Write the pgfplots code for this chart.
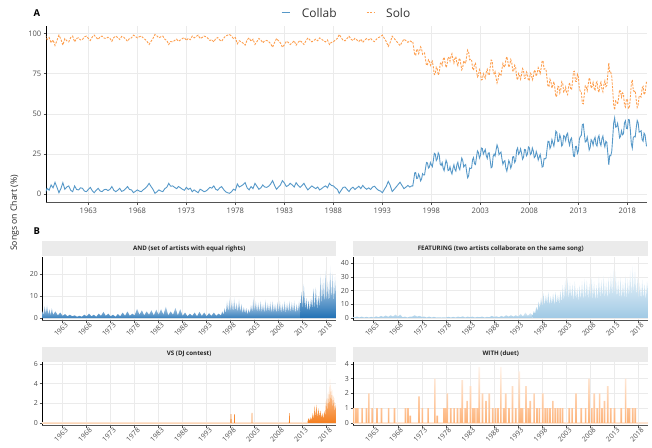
\documentclass[border=0pt]{standalone}
\usepackage{pgfplots}
\pgfplotsset{compat=1.18}
\usepackage{pgfplotstable}
\usepackage{fontspec}
\setmainfont{Open Sans}
\definecolor{collab}{HTML}{5698C8}
\definecolor{solo}{HTML}{FD9F4F}
\definecolor{anddark}{HTML}{2171B5}
\definecolor{featblue}{HTML}{8FC0E0}
\definecolor{vsorange}{HTML}{F57F1F}
\definecolor{withorange}{HTML}{FDAA6A}
\definecolor{gridc}{HTML}{EBEBEB}
\definecolor{stripc}{HTML}{EBEBEB}
\definecolor{txt}{HTML}{4D4D4D}

\pgfplotstableread{
yr collab solo
1958.6 1.0 99.0
1958.8 3.7 96.3
1959.0 2.5 97.5
1959.2 5.8 94.2
1959.4 4.0 96.0
1959.6 7.4 92.6
1959.8 4.3 95.7
1960.0 1.0 99.0
1960.2 3.5 96.5
1960.4 7.2 92.8
1960.6 3.1 96.9
1960.8 4.5 95.5
1961.0 5.2 94.8
1961.2 2.5 97.5
1961.4 1.6 98.4
1961.6 5.2 94.8
1961.8 3.0 97.0
1962.0 2.7 97.3
1962.2 4.0 96.0
1962.4 3.7 96.3
1962.6 2.0 98.0
1962.8 1.6 98.4
1963.0 3.0 97.0
1963.2 4.3 95.7
1963.4 2.2 97.8
1963.6 1.0 99.0
1963.8 2.5 97.5
1964.0 3.7 96.3
1964.2 2.0 98.0
1964.4 1.6 98.4
1964.6 2.8 97.2
1964.8 3.1 96.9
1965.0 2.3 97.7
1965.2 3.0 97.0
1965.4 4.8 95.2
1965.6 2.5 97.5
1965.8 1.6 98.4
1966.0 2.5 97.5
1966.2 3.7 96.3
1966.4 1.8 98.2
1966.6 2.3 97.7
1966.8 3.5 96.5
1967.0 4.8 95.2
1967.2 3.0 97.0
1967.4 2.7 97.3
1967.6 1.0 99.0
1967.8 1.8 98.2
1968.0 2.7 97.3
1968.2 2.0 98.0
1968.4 1.6 98.4
1968.6 2.8 97.2
1968.8 3.7 96.3
1969.0 5.0 95.0
1969.2 6.8 93.2
1969.4 4.8 95.2
1969.6 3.0 97.0
1969.8 0.6 99.4
1970.0 1.5 98.5
1970.2 2.7 97.3
1970.4 2.0 98.0
1970.6 1.6 98.4
1970.8 3.5 96.5
1971.0 4.3 95.7
1971.2 6.8 93.2
1971.4 5.0 95.0
1971.6 5.2 94.8
1971.8 4.3 95.7
1972.0 3.5 96.5
1972.2 4.8 95.2
1972.4 4.0 96.0
1972.6 3.1 96.9
1972.8 2.5 97.5
1973.0 4.3 95.7
1973.2 3.0 97.0
1973.4 3.8 96.2
1973.6 1.6 98.4
1973.8 2.7 97.3
1974.0 1.8 98.2
1974.2 1.0 99.0
1974.4 3.1 96.9
1974.6 2.5 97.5
1974.8 1.6 98.4
1975.0 2.0 98.0
1975.2 3.0 97.0
1975.4 4.3 95.7
1975.6 3.8 96.2
1975.8 5.2 94.8
1976.0 3.1 96.9
1976.2 2.5 97.5
1976.4 4.0 96.0
1976.6 4.8 95.2
1976.8 3.0 97.0
1977.0 1.6 98.4
1977.2 1.0 99.0
1977.4 0.6 99.4
1977.6 1.5 98.5
1977.8 3.1 96.9
1978.0 2.5 97.5
1978.2 6.4 93.6
1978.4 4.5 95.5
1978.6 5.2 94.8
1978.8 6.0 94.0
1979.0 7.2 92.8
1979.2 4.0 96.0
1979.4 2.7 97.3
1979.6 4.8 95.2
1979.8 3.5 96.5
1980.0 6.8 93.2
1980.2 5.0 95.0
1980.4 3.1 96.9
1980.6 4.0 96.0
1980.8 5.8 94.2
1981.0 4.5 95.5
1981.2 4.3 95.7
1981.4 5.0 95.0
1981.6 6.4 93.6
1981.8 8.5 91.5
1982.0 5.5 94.5
1982.2 3.1 96.9
1982.4 4.5 95.5
1982.6 5.8 94.2
1982.8 8.5 91.5
1983.0 7.0 93.0
1983.2 4.8 95.2
1983.4 5.5 94.5
1983.6 6.8 93.2
1983.8 5.8 94.2
1984.0 4.5 95.5
1984.2 7.2 92.8
1984.4 5.5 94.5
1984.6 4.3 95.7
1984.8 5.5 94.5
1985.0 6.8 93.2
1985.2 4.5 95.5
1985.4 2.7 97.3
1985.6 4.0 96.0
1985.8 5.2 94.8
1986.0 4.3 95.7
1986.2 3.5 96.5
1986.4 4.5 95.5
1986.6 2.7 97.3
1986.8 3.5 96.5
1987.0 4.5 95.5
1987.2 5.2 94.8
1987.4 4.0 96.0
1987.6 6.8 93.2
1987.8 5.5 94.5
1988.0 5.2 94.8
1988.2 4.0 96.0
1988.4 3.1 96.9
1988.6 0.6 99.4
1988.8 2.5 97.5
1989.0 4.3 95.7
1989.2 4.5 95.5
1989.4 3.0 97.0
1989.6 1.7 98.3
1989.8 3.5 96.5
1990.0 4.4 95.6
1990.2 3.0 97.0
1990.4 4.0 96.0
1990.6 5.0 95.0
1990.8 3.5 96.5
1991.0 5.5 94.5
1991.2 4.0 96.0
1991.4 3.1 96.9
1991.6 4.0 96.0
1991.8 3.0 97.0
1992.0 4.5 95.5
1992.2 5.0 95.0
1992.4 3.5 96.5
1992.6 2.5 97.5
1992.8 2.0 98.0
1993.0 1.0 99.0
1993.2 3.0 97.0
1993.4 5.0 95.0
1993.6 8.0 92.0
1993.8 5.5 94.5
1994.0 1.7 98.3
1994.2 3.0 97.0
1994.4 4.5 95.5
1994.6 6.0 94.0
1994.8 7.5 92.5
1995.0 5.5 94.5
1995.2 3.5 96.5
1995.4 4.4 95.6
1995.6 5.5 94.5
1995.8 4.5 95.5
1996.0 5.2 94.8
1996.1 5.1 94.9
1996.2 9.0 91.0
1996.3 13.3 86.7
1996.4 13.5 86.5
1996.5 9.8 90.2
1996.6 10.0 90.0
1996.7 12.5 87.5
1996.8 11.0 89.0
1996.9 8.3 91.7
1997.0 9.5 90.5
1997.1 12.8 87.2
1997.2 12.0 88.0
1997.3 12.0 88.0
1997.4 16.0 84.0
1997.5 19.8 80.2
1997.6 19.5 80.5
1997.7 16.3 83.7
1997.8 17.0 83.0
1997.9 19.7 80.3
1998.0 18.3 81.7
1998.1 17.2 82.8
1998.2 21.0 79.0
1998.3 25.5 74.5
1998.4 25.0 75.0
1998.5 21.0 79.0
1998.6 22.0 78.0
1998.7 25.8 74.2
1998.8 24.5 75.5
1998.9 18.8 81.2
1999.0 18.0 82.0
1999.1 19.7 80.3
1999.2 16.3 83.7
1999.3 14.7 85.3
1999.4 18.0 82.0
1999.5 21.2 78.8
1999.6 19.4 80.6
1999.7 14.7 85.3
1999.8 15.0 85.0
1999.9 17.1 82.9
2000.0 14.2 85.8
2000.1 12.6 87.4
2000.2 16.0 84.0
2000.3 18.3 81.7
2000.4 15.5 84.5
2000.5 14.4 85.6
2000.6 18.3 81.7
2000.7 19.9 80.1
2000.8 16.5 83.5
2000.9 15.3 84.7
2001.0 19.0 81.0
2001.1 22.5 77.5
2001.2 21.0 79.0
2001.3 17.0 83.0
2001.4 18.0 82.0
2001.5 18.5 81.5
2001.6 14.0 86.0
2001.7 10.3 89.7
2001.8 11.5 88.5
2001.9 16.3 83.7
2002.0 16.0 84.0
2002.1 16.3 83.7
2002.2 21.5 78.5
2002.3 22.8 77.2
2002.4 19.0 81.0
2002.5 18.5 81.5
2002.6 23.0 77.0
2002.7 27.0 73.0
2002.8 26.0 74.0
2002.9 22.5 77.5
2003.0 24.0 76.0
2003.1 28.8 71.2
2003.2 28.5 71.5
2003.3 25.0 75.0
2003.4 26.5 73.5
2003.5 27.8 72.2
2003.6 24.0 76.0
2003.7 22.3 77.7
2003.8 25.6 74.4
2003.9 25.8 74.2
2004.0 21.0 79.0
2004.1 16.5 83.5
2004.2 17.0 83.0
2004.3 23.5 76.5
2004.4 25.0 75.0
2004.5 23.8 76.2
2004.6 27.5 72.5
2004.7 30.7 69.3
2004.8 28.8 71.2
2004.9 24.7 75.3
2005.0 25.6 74.4
2005.1 26.3 73.7
2005.2 22.0 78.0
2005.3 18.7 81.3
2005.4 20.4 79.6
2005.5 20.9 79.1
2005.6 16.3 83.7
2005.7 14.4 85.6
2005.8 17.5 82.5
2005.9 21.0 79.0
2006.0 19.4 80.6
2006.1 16.2 83.8
2006.2 18.0 82.0
2006.3 23.3 76.7
2006.4 23.5 76.5
2006.5 19.8 80.2
2006.6 21.0 79.0
2006.7 27.4 72.6
2006.8 28.8 71.2
2006.9 24.9 75.1
2007.0 26.0 74.0
2007.1 28.3 71.7
2007.2 25.6 74.4
2007.3 21.8 78.2
2007.4 23.0 77.0
2007.5 27.9 72.1
2007.6 27.7 72.3
2007.7 23.9 76.1
2007.8 25.0 75.0
2007.9 29.4 70.6
2008.0 28.8 71.2
2008.1 24.7 75.3
2008.2 25.5 74.5
2008.3 28.8 71.2
2008.4 27.0 73.0
2008.5 22.8 77.2
2008.6 23.5 76.5
2008.7 26.6 73.4
2008.8 24.6 75.4
2008.9 21.3 78.7
2009.0 23.0 77.0
2009.1 24.8 75.2
2009.2 21.5 78.5
2009.3 16.9 83.1
2009.4 17.3 82.7
2009.5 22.2 77.8
2009.6 22.0 78.0
2009.7 22.5 77.5
2009.8 28.0 72.0
2009.9 33.0 67.0
2010.0 32.9 67.1
2010.1 28.5 71.5
2010.2 30.0 70.0
2010.3 34.0 66.0
2010.4 31.9 68.1
2010.5 30.0 70.0
2010.6 34.0 66.0
2010.7 39.3 60.7
2010.8 38.5 61.5
2010.9 32.8 67.2
2011.0 33.0 67.0
2011.1 37.0 63.0
2011.2 35.0 65.0
2011.3 30.0 70.0
2011.4 31.0 69.0
2011.5 36.5 63.5
2011.6 36.0 64.0
2011.7 33.5 66.5
2011.8 37.0 63.0
2011.9 38.0 62.0
2012.0 33.0 67.0
2012.1 30.5 69.5
2012.2 34.0 66.0
2012.3 35.0 65.0
2012.4 30.0 70.0
2012.5 23.8 76.2
2012.6 23.5 76.5
2012.7 29.7 70.3
2012.8 29.8 70.2
2012.9 25.4 74.6
2013.0 27.0 73.0
2013.1 34.5 65.5
2013.2 36.0 64.0
2013.3 36.7 63.3
2013.4 43.3 56.7
2013.5 43.7 56.3
2013.6 38.0 62.0
2013.7 32.5 67.5
2013.8 33.0 67.0
2013.9 35.5 64.5
2014.0 31.9 68.1
2014.1 27.5 72.5
2014.2 29.0 71.0
2014.3 34.0 66.0
2014.4 33.0 67.0
2014.5 30.5 69.5
2014.6 34.0 66.0
2014.7 35.5 64.5
2014.8 31.0 69.0
2014.9 30.0 70.0
2015.0 35.0 65.0
2015.1 36.5 63.5
2015.2 32.0 68.0
2015.3 30.3 69.7
2015.4 34.5 65.5
2015.5 36.2 63.8
2015.6 31.9 68.1
2015.7 29.5 70.5
2015.8 33.0 67.0
2015.9 32.3 67.7
2016.0 25.6 74.4
2016.1 18.3 81.7
2016.2 24.2 75.8
2016.3 24.0 76.0
2016.4 26.5 73.5
2016.5 35.0 65.0
2016.6 44.3 55.7
2016.7 47.5 52.5
2016.8 41.8 58.2
2016.9 42.0 58.0
2017.0 44.1 55.9
2017.1 40.2 59.8
2017.2 35.1 64.9
2017.3 36.0 64.0
2017.4 39.5 60.5
2017.5 37.0 63.0
2017.6 37.7 62.3
2017.7 44.4 55.6
2017.8 45.7 54.3
2017.9 41.0 59.0
2018.0 40.8 59.2
2018.1 46.5 53.5
2018.2 46.3 53.7
2018.3 40.0 60.0
2018.4 31.4 68.6
2018.5 28.8 71.2
2018.6 35.4 64.6
2018.7 36.0 64.0
2018.8 35.7 64.3
2018.9 41.3 58.7
2019.0 45.9 54.1
2019.1 44.4 55.6
2019.2 38.7 61.3
2019.3 39.0 61.0
2019.4 39.5 60.5
2019.5 34.0 66.0
2019.6 33.0 67.0
2019.7 38.0 62.0
2019.8 36.9 63.1
2019.95 29.8 70.2
}\mainA

\pgfplotsset{
  panel/.style={
    scale only axis,
    axis x line*=bottom, axis y line*=left,
    axis line style={-},
    x axis line style={draw=gray!65!black, line width=1bp},
    y axis line style={draw=black, line width=0.7bp},
    grid=major, major grid style={gridc, line width=0.6bp},
    tick style={draw=txt, line width=0.5bp},
    tick align=outside, major tick length=2.5bp,
    xtick={1963,1968,...,2018},
    xticklabels={1963,1968,1973,1978,1983,1988,1993,1998,2003,2008,2013,2018},
  },
  bpanel/.style={
    panel,
    xmin=1958.7, xmax=2019.95,
    ticklabel style={font=\fontsize{7}{7.5}\selectfont, text=txt},
    xticklabel style={rotate=45, anchor=north east, inner sep=1bp, xshift=3bp},
    yticklabel style={inner sep=1.5bp},
  },
}

\newcommand{\strip}[3]{\node[fill=stripc, minimum width=#3, minimum height=15bp, inner sep=0pt, anchor=south west, font=\bfseries\fontsize{6.2}{7}\selectfont, text=black!85] at #1 {#2};}

\begin{document}
\begin{tikzpicture}
\useasboundingbox (0,0) rectangle (652bp,-448bp);

% ---------- Panel A ----------
\begin{axis}[panel,
  at={(46bp,-202.3bp)}, anchor=south west,
  width=601bp, height=176.8bp,
  xmin=1958.68, xmax=2020.0, ymin=-5, ymax=105,
  ytick={0,25,50,75,100}, yticklabels={0,25,50,75,100},
  ticklabel style={font=\fontsize{7.6}{8}\selectfont, text=txt},
  yticklabel style={inner sep=2bp},
]
\addplot[collab, line width=0.9bp] table[x=yr, y=collab] \mainA;
\addplot[solo, line width=0.9bp, dash pattern=on 2.2bp off 1.3bp] table[x=yr, y=solo] \mainA;
\end{axis}

% ---------- AND ----------
\strip{(42bp,-256.5bp)}{AND (set of artists with equal rights)}{294bp}
\begin{axis}[bpanel,
  at={(42bp,-320bp)}, anchor=south west,
  width=294bp, height=63.5bp,
  ymin=-0.9, ymax=28,
  ytick={0,10,20}, yticklabels={0,10,20},
]
\addplot[draw=none, bottom color=anddark!90, top color=anddark!25] table {
x y
1958.75 3.0
1959.0 1.5
1959.25 5.5
1959.5 2.0
1959.75 5.9
1960.0 1.5
1960.25 4.0
1960.5 1.2
1960.75 4.5
1961.0 1.5
1961.5 3.0
1962.0 1.2
1962.5 2.5
1963.0 1.0
1963.5 1.8
1964.0 0.8
1964.5 1.5
1965.0 0.8
1965.5 1.2
1966.0 0.6
1966.5 1.0
1967.0 0.6
1967.5 1.5
1968.0 0.8
1968.5 2.0
1969.0 0.8
1969.5 1.5
1970.0 0.6
1970.5 2.0
1971.0 1.0
1971.5 2.8
1972.0 1.0
1972.5 2.0
1973.0 0.8
1973.5 1.5
1974.0 0.6
1974.5 1.8
1975.0 0.8
1975.5 2.5
1976.0 1.0
1976.5 3.0
1977.0 1.0
1977.5 2.0
1978.0 1.2
1978.5 4.2
1979.0 1.5
1979.5 3.5
1980.0 1.2
1980.5 3.0
1981.0 1.5
1981.5 3.5
1982.0 1.2
1982.5 3.8
1983.0 1.5
1983.5 4.0
1984.0 1.5
1984.5 5.2
1985.0 1.2
1985.5 3.0
1986.0 1.5
1986.5 4.6
1987.0 1.2
1987.5 4.0
1988.0 1.0
1988.5 2.5
1989.0 0.8
1989.5 2.0
1990.0 1.0
1990.5 2.5
1991.0 0.8
1991.5 2.8
1992.0 1.0
1992.5 2.5
1993.0 0.8
1993.5 2.2
1994.0 1.0
1994.5 2.5
1995.0 1.0
1995.5 2.0
1996.0 1.2
} \closedcycle;
\addplot[draw=none, bottom color=anddark!90, top color=anddark!5] table {
x y
1996.0 1.2
1996.25 3.0
1996.5 1.5
1996.75 4.5
1997.0 2.0
1997.25 8.0
1997.5 2.5
1997.75 9.5
1998.0 3.0
1998.25 8.5
1998.5 2.5
1998.75 9.8
1999.0 3.0
1999.25 7.0
1999.5 2.5
1999.75 9.0
2000.0 2.5
2000.25 6.5
2000.5 2.0
2000.75 5.0
2001.0 2.0
2001.25 4.5
2001.5 1.5
2001.75 4.0
2002.0 2.0
2002.25 6.0
2002.5 2.5
2002.75 10.0
2003.0 3.0
2003.25 8.0
2003.5 2.5
2003.75 7.0
2004.0 2.5
2004.25 8.0
2004.5 2.5
2004.75 6.5
2005.0 2.0
2005.25 8.5
2005.5 2.5
2005.75 7.0
2006.0 2.5
2006.25 7.5
2006.5 2.0
2006.75 8.0
2007.0 2.5
2007.25 6.5
2007.5 2.0
2007.75 7.5
2008.0 2.5
2008.25 8.0
2008.5 2.0
2008.75 6.5
2009.0 2.5
2009.25 8.0
2009.5 2.0
2009.75 7.0
2010.0 2.5
2010.25 8.0
2010.5 2.5
2010.75 7.5
2011.0 2.5
2011.25 8.0
2011.5 2.0
2011.75 6.5
2012.0 2.5
2012.25 8.0
2012.5 3.0
} \closedcycle;
\addplot[draw=none, bottom color=anddark, top color=anddark!4] table {
x y
2012.5 3.0
2012.75 12.0
2013.0 4.0
2013.25 15.5
2013.5 4.0
2013.75 9.0
2014.0 3.0
2014.25 8.0
2014.5 3.0
2014.75 9.0
2015.0 4.0
2015.25 13.5
2015.5 4.0
2015.75 14.0
2016.0 3.5
2016.25 10.0
2016.5 5.0
2016.75 20.0
2017.0 6.0
2017.25 18.0
2017.5 6.0
2017.75 22.0
2018.0 7.0
2018.25 17.0
2018.5 6.0
2018.75 24.0
2019.0 8.0
2019.25 21.0
2019.5 7.0
2019.75 19.0
2019.95 10.0
} \closedcycle;
\end{axis}

% ---------- FEATURING ----------
\strip{(353bp,-256.5bp)}{FEATURING (two artists collaborate on the same song)}{295bp}
\begin{axis}[bpanel,
  at={(353bp,-320bp)}, anchor=south west,
  width=295bp, height=63.5bp,
  ymin=-1.5, ymax=44.9,
  ytick={0,10,20,30,40}, yticklabels={0,10,20,30,40},
]
\addplot[draw=none, bottom color=featblue!85, top color=featblue!30] table {
x y
1958.75 0.8
1959.0 0.3
1959.5 1.0
1960.0 0.3
1960.5 1.0
1961.0 0.3
1961.5 0.8
1962.0 0.3
1962.5 0.8
1963.0 0.3
1963.5 1.2
1964.0 0.5
1964.5 1.5
1965.0 0.8
1965.5 1.8
1966.0 0.8
1966.5 2.0
1967.0 1.0
1967.5 2.5
1968.0 1.0
1968.5 2.5
1969.0 0.5
1969.5 1.0
1970.0 0.3
1970.5 1.0
1971.0 1.0
1971.5 2.0
1972.0 1.0
1972.5 1.5
1973.0 0.8
1973.5 1.0
1974.0 0.3
1974.5 1.0
1975.0 0.3
1975.5 0.8
1976.0 0.3
1976.5 0.5
1977.0 0.3
1977.5 0.5
1978.0 0.3
1978.5 0.8
1979.0 0.3
1979.5 0.8
1980.0 0.3
1980.5 1.0
1981.0 0.5
1981.5 1.2
1982.0 0.3
1982.5 1.0
1983.0 0.5
1983.5 1.0
1984.0 0.3
1984.5 0.8
1985.0 0.5
1985.5 1.0
1986.0 0.3
1986.5 0.8
1987.0 0.5
1987.5 1.5
1988.0 0.8
1988.5 1.2
1989.0 0.5
1989.5 1.5
1990.0 0.8
1990.5 2.0
1991.0 1.0
1991.5 2.0
1992.0 1.0
1992.5 2.0
1993.0 1.0
1993.5 3.0
1994.0 1.2
1994.5 4.0
1995.0 1.5
1995.5 3.5
1996.0 2.0
} \closedcycle;
\addplot[draw=none, bottom color=featblue!85, top color=featblue!4] table {
x y
1996.0 2.0
1996.25 5.0
1996.5 3.0
1996.75 8.0
1997.0 5.0
1997.25 12.0
1997.5 7.0
1997.75 15.0
1998.0 8.0
1998.25 18.0
1998.5 9.0
1998.75 17.0
1999.0 10.0
1999.25 19.0
1999.5 9.0
1999.75 16.0
2000.0 10.0
2000.25 18.0
2000.5 9.0
2000.75 19.0
2001.0 10.0
2001.25 17.0
2001.5 10.0
2001.75 20.0
2002.0 11.0
2002.25 24.0
2002.5 12.0
2002.75 28.0
2003.0 14.0
2003.25 30.0
2003.5 13.0
2003.75 26.0
2004.0 14.0
2004.25 25.0
2004.5 12.0
2004.75 27.0
2005.0 13.0
2005.25 22.0
2005.5 12.0
2005.75 24.0
2006.0 13.0
2006.25 27.0
2006.5 12.0
2006.75 29.0
2007.0 14.0
2007.25 28.0
2007.5 13.0
2007.75 25.0
2008.0 14.0
2008.25 30.0
2008.5 13.0
2008.75 27.0
2009.0 12.0
2009.25 24.0
2009.5 13.0
2009.75 31.0
2010.0 14.0
2010.25 28.0
2010.5 15.0
2010.75 31.0
2011.0 14.0
2011.25 27.0
2011.5 13.0
2011.75 30.0
2012.0 15.0
2012.25 33.0
2012.5 16.0
2012.75 37.0
2013.0 16.0
2013.25 34.0
2013.5 14.0
2013.75 28.0
2014.0 14.0
2014.25 30.0
2014.5 13.0
2014.75 27.0
2015.0 14.0
2015.25 31.0
2015.5 13.0
2015.75 29.0
2016.0 15.0
2016.25 35.0
2016.5 16.0
2016.75 40.0
2017.0 17.0
2017.25 38.0
2017.5 15.0
2017.75 30.0
2018.0 14.0
2018.25 26.0
2018.5 13.0
2018.75 28.0
2019.0 14.0
2019.25 25.0
2019.5 13.0
2019.75 27.0
2019.95 20.0
} \closedcycle;
\end{axis}

% ---------- VS ----------
\strip{(42bp,-361.7bp)}{VS (DJ contest)}{294bp}
\begin{axis}[bpanel,
  at={(42bp,-425.3bp)}, anchor=south west,
  width=294bp, height=63.6bp,
  ymin=-0.23, ymax=6.24,
  ytick={0,2,4,6}, yticklabels={0,2,4,6},
]
\addplot[vsorange!22, line width=2bp] coordinates {(1958.7,0) (2014,0)};
\addplot[draw=none, bottom color=vsorange, top color=vsorange!25] table {
x y
1958.7 0
1997.95 0
1998.0 0.9
1998.15 0.9
1998.2 0
1998.7 0
1998.75 0.9
1998.85 0.9
1998.9 0
2002.35 0
2002.4 1.05
2002.5 1.05
2002.55 0
2010.15 0
2010.2 1.0
2010.3 1.0
2010.35 0
2014.0 0
2014.1 0.3
2014.3 0.5
2014.5 0.2
2014.7 0.6
2014.9 0.3
2015.1 1.0
2015.3 0.4
2015.5 1.8
2015.7 0.6
2015.9 1.9
2016.1 0.5
2016.3 1.5
2016.5 0.6
2016.7 1.3
2016.9 0.5
2017.1 1.0
2017.3 0.4
2017.5 1.2
2017.7 0.8
2017.9 2.5
2018.1 1.2
2018.3 3.2
2018.5 1.5
2018.7 4.5
2018.9 2.0
2019.1 3.5
2019.3 1.5
2019.5 2.8
2019.7 1.2
2019.95 2.0
} \closedcycle;
\end{axis}

% ---------- WITH ----------
\strip{(353bp,-361.7bp)}{WITH (duet)}{295bp}
\begin{axis}[bpanel,
  at={(353bp,-425.3bp)}, anchor=south west,
  width=295bp, height=63.6bp,
  ymin=-0.16, ymax=4.15,
  ytick={0,1,2,3,4}, yticklabels={0,1,2,3,4},
]
\addplot[withorange!30, line width=1.5bp] coordinates {(1958.7,0) (2019.95,0)};
\addplot[ybar, bar width=0.35, draw=none, bottom color=withorange!90, top color=withorange!12] table {
x y
1958.8 1
1959.3 1
1959.7 1
1960.6 1
1961.5 1
1962.0 2
1962.7 1
1963.7 1
1964.6 1
1966.1 1
1967.3 1
1969.6 1
1970.1 1
1970.6 0.5
1972.4 1.8
1973.1 1
1974.3 1
1975.7 3
1976.2 0.5
1977.6 1
1978.0 1
1978.3 2
1979.0 1
1979.7 1
1980.4 1
1981.0 1
1981.4 2.9
1982.0 1
1982.4 1.5
1983.1 2.5
1983.6 1
1984.0 1
1984.5 1
1984.9 3.8
1985.6 2
1986.3 1.5
1987.0 2
1987.7 1
1988.3 1
1988.8 1
1989.4 3.8
1990.0 1
1990.4 2
1991.1 1
1991.8 2.5
1992.5 1
1993.2 3.5
1993.6 1
1993.9 1
1994.6 2.5
1995.1 1
1995.5 1.5
1996.3 2
1996.9 1
1997.4 1
1998.1 2
1998.6 1
1999.1 1
1999.6 1
2000.2 1.5
2000.7 1
2001.2 1
2001.7 1
2002.2 1
2003.6 1
2004.2 1
2005.0 2
2006.1 1
2007.0 1
2007.7 3
2008.3 1
2008.8 2
2009.4 1
2009.9 2
2010.4 1
2010.9 1.5
2011.6 2.5
2012.2 1
2013.0 1
2014.4 1
2015.3 3
2015.8 1
2016.1 1
2016.8 1
2017.3 1
};
\end{axis}

% ---------- labels and legend ----------
\node[anchor=base west, inner sep=0pt, font=\bfseries\fontsize{9.5}{10}\selectfont] at (33.3bp,-16.7bp) {A};
\node[anchor=base west, inner sep=0pt, font=\bfseries\fontsize{9.5}{10}\selectfont] at (33.3bp,-234bp) {B};
\node[rotate=90, inner sep=0pt, font=\fontsize{8.7}{10}\selectfont, text=black!85] at (14.5bp,-213bp) {Songs on Chart (\%)};
\draw[collab, line width=0.8bp] (281.7bp,-12.7bp) -- (290bp,-12.7bp);
\node[anchor=base west, inner sep=0pt, font=\fontsize{12}{14}\selectfont, text=black!80] at (301.7bp,-17.3bp) {Collab};
\draw[solo, line width=0.8bp, dash pattern=on 2.2bp off 1.3bp] (366.7bp,-12.7bp) -- (375bp,-12.7bp);
\node[anchor=base west, inner sep=0pt, font=\fontsize{12}{14}\selectfont, text=black!80] at (386bp,-17.3bp) {Solo};
\end{tikzpicture}
\end{document}
